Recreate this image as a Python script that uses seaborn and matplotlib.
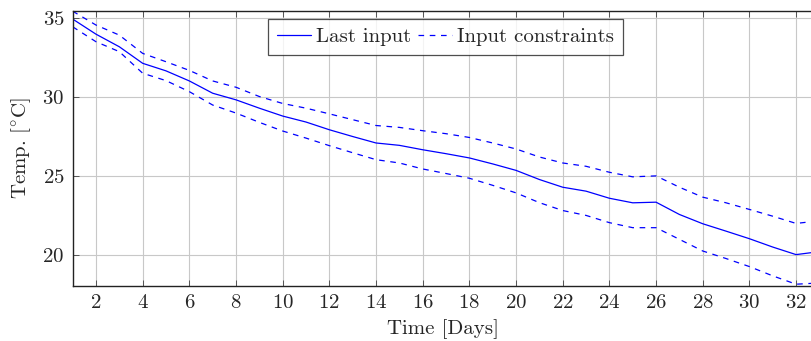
import matplotlib
matplotlib.use("Agg")
import matplotlib.pyplot as plt
import seaborn as sns
import pandas as pd
import numpy as np

days = list(range(1, 34))
last_input = [34.96, 34.0, 33.2, 32.15, 31.67, 31.03, 30.25, 29.83, 29.3, 28.8,
              28.42, 27.93, 27.5, 27.09, 26.94, 26.66, 26.41, 26.14, 25.76, 25.35,
              24.77, 24.28, 24.03, 23.58, 23.29, 23.33, 22.55, 21.96, 21.49, 21.01,
              20.48, 20.0, 20.19]
upper = [35.46, 34.58, 33.94, 32.78, 32.25, 31.7, 31.03, 30.63, 30.04, 29.6,
         29.3, 28.94, 28.57, 28.2, 28.08, 27.87, 27.68, 27.44, 27.09, 26.71,
         26.2, 25.82, 25.61, 25.23, 24.94, 25.0, 24.28, 23.65, 23.29, 22.87,
         22.44, 21.98, 22.15]
lower = [34.47, 33.52, 32.89, 31.52, 31.05, 30.35, 29.5, 28.99, 28.4, 27.85,
         27.4, 26.92, 26.47, 26.03, 25.82, 25.44, 25.15, 24.85, 24.4, 23.92,
         23.3, 22.8, 22.49, 22.03, 21.71, 21.71, 20.97, 20.23, 19.75, 19.24,
         18.65, 18.12, 18.2]

sns.set_theme(style="white")
plt.rcParams["font.family"] = ["cmr10", "DejaVu Serif"]
plt.rcParams["mathtext.fontset"] = "cm"
plt.rcParams["axes.formatter.use_mathtext"] = True

df = pd.DataFrame({"day": days, "last": last_input, "upper": upper, "lower": lower})

fig = plt.figure(figsize=(8.12, 3.41), dpi=100)
ax = fig.add_axes([0.0895, 0.161, 0.911, 0.808])

blue = "#0000ff"
dash = (0, (4.5, 4.5))
sns.lineplot(data=df, x="day", y="last", ax=ax, color=blue, lw=0.9, label="Last input")
sns.lineplot(data=df, x="day", y="upper", ax=ax, color=blue, lw=0.9, ls=dash,
             label="Input constraints")
sns.lineplot(data=df, x="day", y="lower", ax=ax, color=blue, lw=0.9, ls=dash)

fs = 15
ax.set_xlim(1, 32.7)
ax.set_ylim(18, 35.5)
ax.set_xticks(range(2, 33, 2))
ax.set_yticks([20, 25, 30, 35])
ax.grid(True, color="#c8c8c8", lw=0.8)
ax.set_axisbelow(True)
for s in ["left", "bottom", "top"]:
    ax.spines[s].set_color("#222222")
    ax.spines[s].set_linewidth(1.0)
ax.spines["right"].set_visible(False)
ax.tick_params(axis="both", direction="in", length=4, width=0.7, color="#555555",
               labelsize=fs, pad=6, bottom=True, left=True, top=True)
ax.set_xlabel("Time [Days]", fontsize=fs, labelpad=5)
ax.set_ylabel(r"Temp. [$^{\circ}$C]", fontsize=fs, labelpad=7)

leg = ax.legend(loc="upper center", bbox_to_anchor=(0.504, 0.971), ncol=2, fontsize=fs,
                frameon=True, fancybox=False, edgecolor="#222222", handlelength=1.65,
                handletextpad=0.25, columnspacing=0.3, borderpad=0.42, borderaxespad=0.0)
leg.get_frame().set_linewidth(0.9)

fig.savefig("out.png", dpi=100)
